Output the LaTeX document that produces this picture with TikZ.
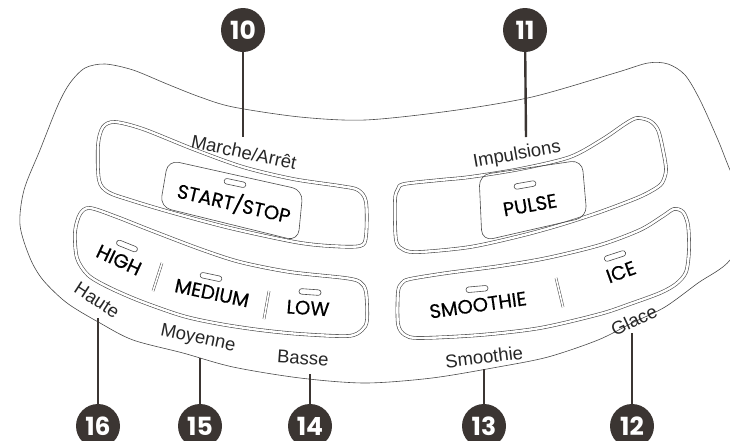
\documentclass[tikz,border=0pt]{standalone}
\usepackage{fontspec}
\setmainfont{Liberation Sans}
\newfontfamily\btnfont[FakeBold=0.5]{Poppins}
\newfontfamily\numfont{Poppins}
\definecolor{ink}{HTML}{3B3532}
\definecolor{linegray}{HTML}{4A4A4A}
\begin{document}
\begin{tikzpicture}[x=1pt,y=-1pt,
  outline/.style={draw=linegray, line width=0.6pt},
  panel/.style={draw=linegray, line width=0.6pt, double=white, double distance=2.4pt},
  btnshape/.style={draw=linegray, line width=0.6pt, rounded corners=11pt},
  led/.style={draw=linegray, line width=0.6pt, rectangle, rounded corners=2.6pt, minimum width=22pt, minimum height=5.5pt, inner sep=0pt},
  sepline/.style={draw=linegray, line width=0.5pt, double=white, double distance=1.6pt},
  btntext/.style={font=\btnfont\fontsize{19.5}{19.5}\selectfont, text=black, inner sep=0pt},
  lbl/.style={font=\fontsize{18.5}{18.5}\selectfont, text=black!85, inner sep=0pt},
  num/.style={circle, fill=ink, minimum size=44pt, inner sep=0pt, text=white, font=\numfont\bfseries\fontsize{25}{25}\selectfont},
  leader/.style={draw=ink, line width=2.4pt}
]
\useasboundingbox (0,0) rectangle (730,440);
\clip (0,0) rectangle (730,440);

% outer body
\draw[outline] plot[smooth cycle, tension=0.5] coordinates {
 (365,120) (450,111) (532,97) (615,73) (648,63) (668,64) (685,75) (700,100) (718,140) (730,170) (750,215) (730,260)
 (698,283) (665,307) (632,323) (598,340) (548,357) (498,367) (432,378) (365,383) (300,378) (233,367) (183,353)
 (133,340) (100,323) (67,303) (43,280) (30,258) (20,225) (24,190) (40,150) (58,105) (70,83) (85,68) (105,64)
 (133,70) (167,84) (200,97) (233,107) (300,117)};

% panels
\draw[panel] plot[smooth cycle, tension=0.5] coordinates {
 (115,122) (143,129) (193,149) (243,167) (293,179) (340,186) (358,190) (366,202) (366,236) (360,246)
 (330,246) (295,242) (230,228) (170,212) (130,200) (108,192) (99,180) (98,145) (103,127)};
\draw[panel] plot[smooth cycle, tension=0.5] coordinates {
 (404,184) (440,180) (470,177) (520,169) (570,157) (603,139) (625,124) (637,118) (650,121) (658,130)
 (663,150) (666,170) (662,183) (653,190) (637,198) (600,212) (560,225) (520,236) (470,247) (420,252)
 (404,250) (396,240) (395,200) (398,189)};
\draw[panel] plot[smooth cycle, tension=0.5] coordinates {
 (90,208) (117,217) (150,230) (200,249) (240,262) (290,272) (345,278) (360,282) (366,292) (367,320)
 (362,330) (348,336) (300,334) (260,330) (220,324) (183,316) (140,301) (108,287) (88,275) (77,258)
 (75,232) (80,214)};
\draw[panel] plot[smooth cycle, tension=0.5] coordinates {
 (410,279) (447,273) (500,266) (547,258) (600,245) (640,230) (663,216) (674,209) (683,212) (688,225)
 (689,250) (686,272) (676,284) (660,293) (630,304) (600,314) (540,328) (480,335) (420,338) (405,335)
 (398,324) (398,292) (402,283)};

% buttons
\draw[btnshape] (168,160) -- (303,190) -- (298,241) -- (160,207) -- cycle;
\draw[btnshape] (479,175) -- (582,160) -- (587,217) -- (482,241) -- cycle;

% LEDs
\node[led, rotate=-12] (ledss) at (235,183) {};
\node[led, rotate=10] (ledpu) at (525,185) {};
\node[led, rotate=-22] (ledhi) at (127,246) {};
\node[led, rotate=-12] (ledme) at (211,277) {};
\node[led, rotate=-4] (ledlo) at (310,292) {};
\node[led, rotate=5] (ledsm) at (477,289) {};
\node[led, rotate=18] (ledic) at (615,256) {};

% separators
\draw[sepline] (162,263) -- (153,291);
\draw[sepline] (269,291) -- (264,319);
\draw[sepline] (556,278) -- (563,307);

% button texts
\node[btntext, rotate=-13] (tss) at (234,203) {START/STOP};
\node[btntext, rotate=10] (tpu) at (530,205) {PULSE};
\node[btntext, rotate=-25] (thi) at (119,260) {HIGH};
\node[btntext, rotate=-12] (tme) at (212,293) {MEDIUM};
\node[btntext, rotate=-4] (tlo) at (308,308) {LOW};
\node[btntext, rotate=8] (tsm) at (478,305) {SMOOTHIE};
\node[btntext, rotate=20] (tic) at (621,272) {ICE};

% labels
\node[lbl, rotate=-12] (l10) at (244,152) {Marche/Arrêt};
\node[lbl, rotate=10] (l11) at (517,155) {Impulsions};
\node[lbl, rotate=-33] (l16) at (97,300) {Haute};
\node[lbl, rotate=-12] (l15) at (198,339) {Moyenne};
\node[lbl, rotate=-4] (l14) at (303,358) {Basse};
\node[lbl, rotate=7] (l13) at (484,357) {Smoothie};
\node[lbl, rotate=25] (l12) at (634,320) {Glace};

% callouts
\node[num] (n10) at (243,30) {10};
\node[num] (n11) at (525,30) {11};
\node[num] (n16) at (98,426) {16};
\node[num] (n15) at (200,426) {15};
\node[num] (n14) at (310,426) {14};
\node[num] (n13) at (484,426) {13};
\node[num] (n12) at (632,426) {12};

\coordinate (e10) at (243,137);
\coordinate (e11) at (526,137);
\coordinate (e16) at (98,318);
\coordinate (e15) at (200,358);
\coordinate (e14) at (310,374);
\coordinate (e13) at (484,369);
\coordinate (e12) at (632,333);
\draw[leader] (n10) -- (e10);
\draw[leader] (n11) -- (e11);
\draw[leader] (n16) -- (e16);
\draw[leader] (n15) -- (e15);
\draw[leader] (n14) -- (e14);
\draw[leader] (n13) -- (e13);
\draw[leader] (n12) -- (e12);
\end{tikzpicture}
\end{document}
